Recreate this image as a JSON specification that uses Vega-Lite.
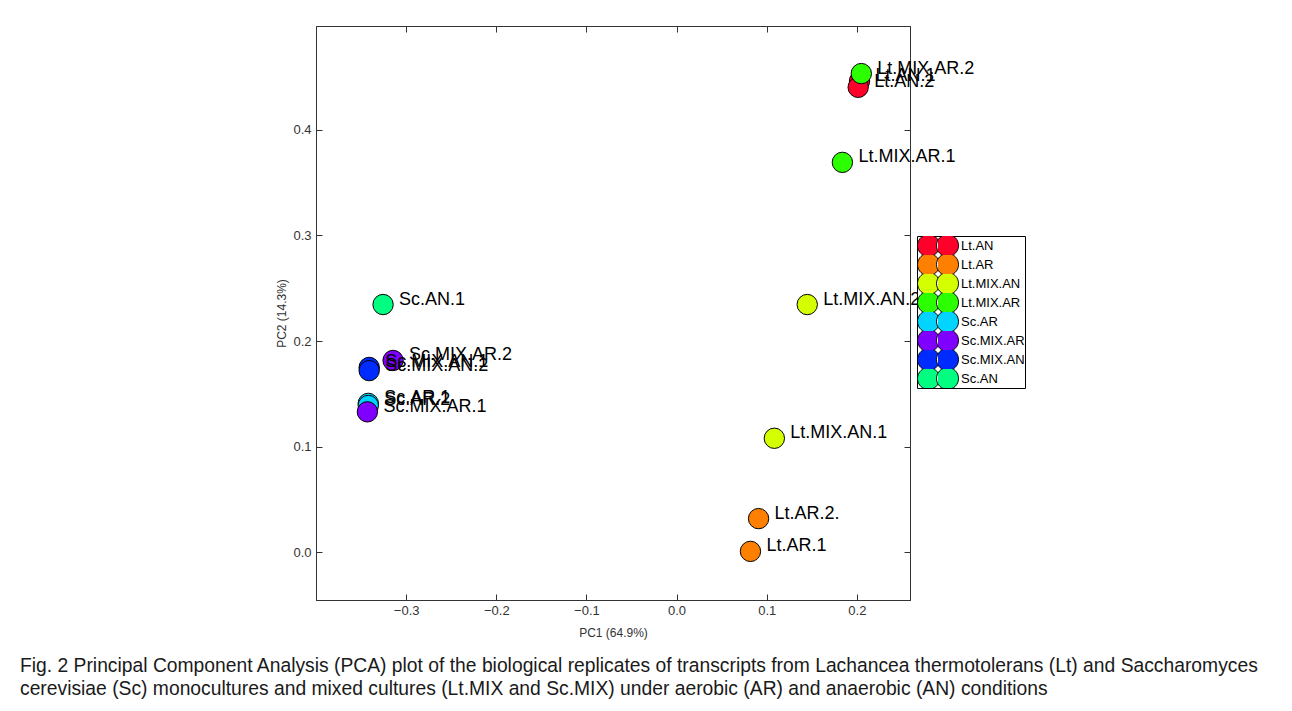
{
  "$schema": "https://vega.github.io/schema/vega-lite/v6.json",
  "width": 594,
  "height": 574,
  "padding": {"left": 20, "top": 25, "right": 5, "bottom": 5},
  "background": "white",
  "title": {
    "text": ["Fig. 2 Principal Component Analysis (PCA) plot of the biological replicates of transcripts from Lachancea thermotolerans (Lt) and Saccharomyces", "cerevisiae (Sc) monocultures and mixed cultures (Lt.MIX and Sc.MIX) under aerobic (AR) and anaerobic (AN) conditions"],
    "orient": "bottom",
    "anchor": "start",
    "frame": "group",
    "dx": -296,
    "offset": 19,
    "font": "Liberation Sans",
    "fontSize": 19.3,
    "fontWeight": "normal",
    "lineHeight": 23,
    "color": "#1a1a1a"
  },
  "data": {
    "values": [
      {"sample": "Lt.AN.1", "group": "Lt.AN", "PC1": 0.203, "PC2": 0.446},
      {"sample": "Lt.AN.2", "group": "Lt.AN", "PC1": 0.2015, "PC2": 0.440},
      {"sample": "Lt.AR.1", "group": "Lt.AR", "PC1": 0.082, "PC2": 0.001},
      {"sample": "Lt.AR.2.", "group": "Lt.AR", "PC1": 0.091, "PC2": 0.032},
      {"sample": "Lt.MIX.AN.1", "group": "Lt.MIX.AN", "PC1": 0.1085, "PC2": 0.108},
      {"sample": "Lt.MIX.AN.2", "group": "Lt.MIX.AN", "PC1": 0.145, "PC2": 0.2345},
      {"sample": "Lt.MIX.AR.1", "group": "Lt.MIX.AR", "PC1": 0.184, "PC2": 0.369},
      {"sample": "Lt.MIX.AR.2", "group": "Lt.MIX.AR", "PC1": 0.205, "PC2": 0.453},
      {"sample": "Sc.AN.1", "group": "Sc.AN", "PC1": -0.3256, "PC2": 0.2345},
      {"sample": "Sc.AR.1", "group": "Sc.AR", "PC1": -0.342, "PC2": 0.141},
      {"sample": "Sc.AR.2", "group": "Sc.AR", "PC1": -0.342, "PC2": 0.139},
      {"sample": "Sc.MIX.AR.1", "group": "Sc.MIX.AR", "PC1": -0.343, "PC2": 0.133},
      {"sample": "Sc.MIX.AR.2", "group": "Sc.MIX.AR", "PC1": -0.3145, "PC2": 0.1816},
      {"sample": "Sc.MIX.AN.1", "group": "Sc.MIX.AN", "PC1": -0.341, "PC2": 0.175},
      {"sample": "Sc.MIX.AN.2", "group": "Sc.MIX.AN", "PC1": -0.341, "PC2": 0.172}
    ]
  },
  "layer": [
    {
      "mark": {"type": "circle", "size": 415, "opacity": 1, "stroke": "black", "strokeWidth": 1},
      "encoding": {
        "x": {"field": "PC1", "type": "quantitative", "scale": {"domain": [-0.4, 0.259], "nice": false, "zero": false},
          "axis": {"orient": "bottom", "title": "PC1 (64.9%)", "values": [-0.3, -0.2, -0.1, 0, 0.1, 0.2], "format": ".1f", "tickSize": -6, "labelPadding": 10, "titlePadding": 10}},
        "y": {"field": "PC2", "type": "quantitative", "scale": {"domain": [-0.045, 0.498], "nice": false, "zero": false},
          "axis": {"orient": "left", "title": "PC2 (14.3%)", "values": [0, 0.1, 0.2, 0.3, 0.4], "format": ".1f", "tickSize": -6, "labelPadding": 11, "titlePadding": 4}},
        "color": {"field": "group", "type": "nominal",
          "scale": {"domain": ["Lt.AN", "Lt.AR", "Lt.MIX.AN", "Lt.MIX.AR", "Sc.AR", "Sc.MIX.AR", "Sc.MIX.AN", "Sc.AN"],
                    "range": ["#FF002B", "#FF8000", "#D4FF00", "#2BFF00", "#00D4FF", "#8000FF", "#002BFF", "#00FF80"]},
          "legend": {"title": null, "orient": "none", "legendX": 601, "legendY": 210}}
      }
    },
    {
      "mark": {"type": "text", "align": "left", "baseline": "middle", "dx": 16, "dy": -5, "fontSize": 18, "font": "Liberation Sans", "color": "black"},
      "encoding": {
        "x": {"field": "PC1", "type": "quantitative", "axis": {"orient": "top", "title": null, "labels": false, "values": [-0.3, -0.2, -0.1, 0, 0.1, 0.2], "tickSize": -6}},
        "y": {"field": "PC2", "type": "quantitative", "axis": {"orient": "right", "title": null, "labels": false, "values": [0, 0.1, 0.2, 0.3, 0.4], "tickSize": -6}},
        "text": {"field": "sample"}
      }
    }
  ],
  "resolve": {"axis": {"x": "independent", "y": "independent"}},
  "config": {
    "view": {"stroke": "#333333", "strokeWidth": 1},
    "axis": {"grid": false, "domainColor": "#333333", "tickColor": "#333333", "labelFont": "Liberation Sans", "labelFontSize": 13, "labelColor": "#333333", "titleFont": "Liberation Sans", "titleFontSize": 12, "titleFontWeight": "normal", "titleColor": "#333333"},
    "legend": {
      "symbolType": "M1.16,-0.584A1.158,1.158,0,1,0,1.16,0.584M3.318,0A1.158,1.158,0,1,1,1.002,0A1.158,1.158,0,1,1,3.318,0Z",
      "symbolSize": 361,
      "symbolStrokeColor": "black",
      "symbolStrokeWidth": 1,
      "symbolOpacity": 1,
      "labelFont": "Liberation Sans",
      "labelFontSize": 13,
      "labelColor": "black",
      "labelOffset": 24,
      "clipHeight": 19,
      "rowPadding": 0,
      "padding": 0,
      "strokeColor": "black",
      "fillColor": "white"
    }
  }
}
